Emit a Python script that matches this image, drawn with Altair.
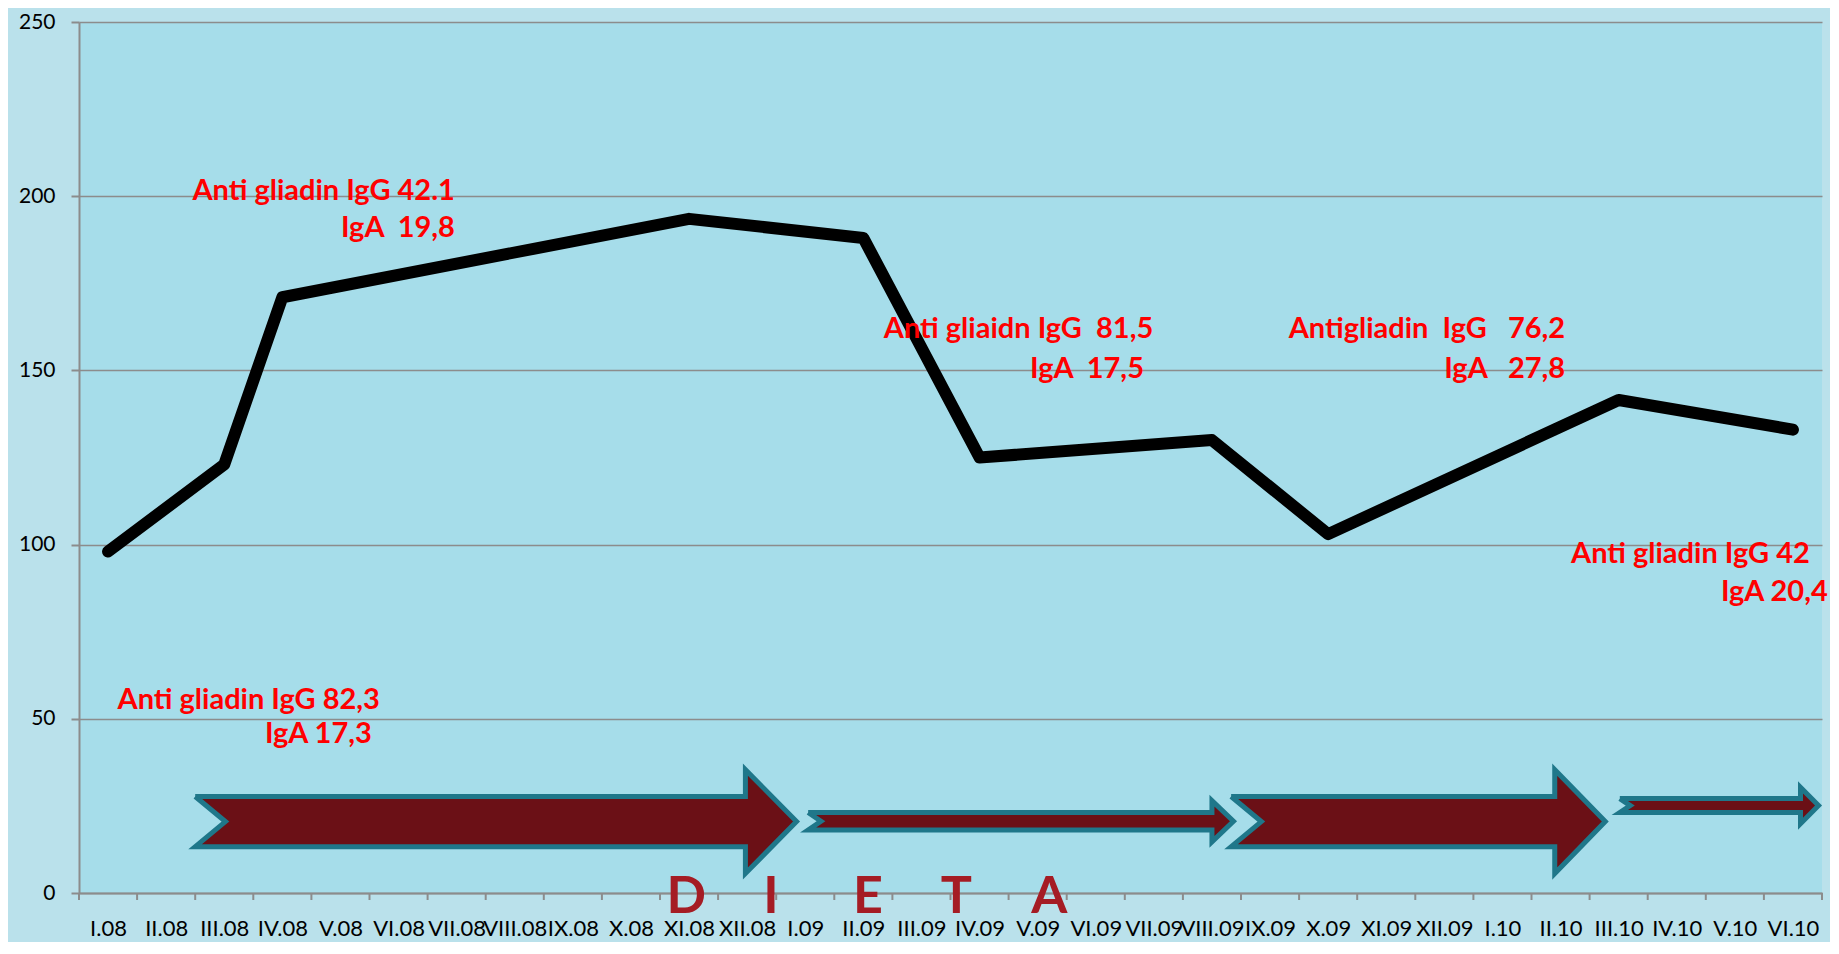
import altair as alt
import pandas as pd

# ---------------- data ----------------
MONTHS = ["I.08", "II.08", "III.08", "IV.08", "V.08", "VI.08", "VII.08", "VIII.08",
          "IX.08", "X.08", "XI.08", "XII.08", "I.09", "II.09", "III.09", "IV.09",
          "V.09", "VI.09", "VII.09", "VIII.09", "IX.09", "X.09", "XI.09", "XII.09",
          "I.10", "II.10", "III.10", "IV.10", "V.10", "VI.10"]

LINE_MONTHS = ["I.08", "III.08", "IV.08", "XI.08", "II.09", "IV.09", "VIII.09",
               "X.09", "III.10", "VI.10"]
LINE_VALUES = [98, 123, 171, 193.5, 188, 125, 130, 103, 141.5, 133]

Y_TICKS = [0, 50, 100, 150, 200, 250]

NB = "\u00a0"
NOTE_TEXTS = ["Anti gliadin IgG 42.1", "IgA" + NB + " 19,8",
              "Anti gliaidn IgG" + NB + " 81,5", "IgA" + NB + " 17,5",
              "Antigliadin" + NB + " IgG" + NB + NB + " 76,2", "IgA" + NB + NB + " 27,8",
              "Anti gliadin IgG 42", "IgA 20,4",
              "Anti gliadin IgG 82,3", "IgA 17,3"]
NOTE_X = [5.97, 5.97, 17.99, 17.83, 25.08, 25.08, 29.29, 29.6, 4.68, 4.54]
NOTE_Y = [198.9, 188.2, 159.3, 147.9, 159.3, 147.9, 94.6, 83.7, 52.8, 43.0]

DIETA_LETTERS = ["D", "I", "E", "T", "A"]
DIETA_X = [9.95, 11.41, 13.08, 14.6, 16.2]
DIETA_Y = [-5.8, -5.8, -5.8, -5.8, -5.8]

ARROW_TAIL = [1.5, 12.05, 19.33, 26.02]
ARROW_NOTCH = [2.02, 12.27, 19.85, 26.2]
ARROW_HEAD = [10.97, 19.0, 24.9, 29.13]
ARROW_TIP = [11.85, 19.37, 25.77, 29.44]
ARROW_MID = [20.5, 20.6, 20.5, 25.1]
ARROW_BODY = [7.2, 2.5, 7.2, 2.0]
ARROW_HEADW = [14.9, 5.9, 14.9, 5.2]

# ---------------- tables ----------------
line_df = pd.DataFrame({"idx": [MONTHS.index(m) for m in LINE_MONTHS], "v": LINE_VALUES})
note_df = pd.DataFrame({"x": NOTE_X, "y": NOTE_Y, "t": NOTE_TEXTS})
dieta_df = pd.DataFrame({"x": DIETA_X, "y": DIETA_Y, "t": DIETA_LETTERS})
tick_df = pd.DataFrame({"b": [i - 0.5 for i in range(len(MONTHS) + 1)]})

rows = []
for i in range(len(ARROW_TAIL)):
    t, n, h, p = ARROW_TAIL[i], ARROW_NOTCH[i], ARROW_HEAD[i], ARROW_TIP[i]
    c, bw, hw = ARROW_MID[i], ARROW_BODY[i], ARROW_HEADW[i]
    pts = [(t, c + bw), (h, c + bw), (h, c + hw), (p, c), (h, c - hw),
           (h, c - bw), (t, c - bw), (n, c), (t, c + bw)]
    for k, (x, y) in enumerate(pts):
        rows.append({"id": i, "k": k, "x": x, "y": y})
arrow_df = pd.DataFrame(rows)

# ---------------- encodings ----------------
W, H = 1743, 871
GREY = "#8C8C8C"
label_expr = "[" + ",".join("'" + m + "'" for m in MONTHS) + "][datum.value]"

X_SCALE = alt.Scale(domain=[-0.5, len(MONTHS) - 0.5], nice=False, zero=False)
X_AXIS = alt.Axis(values=list(range(len(MONTHS))), labelExpr=label_expr, ticks=False,
                  grid=False, labelAngle=0, labelOverlap=False, labelFlush=False,
                  labelFont="Lato", labelFontSize=22, labelColor="#000000",
                  labelPadding=25, domainColor=GREY, domainWidth=2, title=None)
Y_SCALE = alt.Scale(domain=[0, 250], nice=False, zero=True)
Y_AXIS = alt.Axis(values=Y_TICKS, grid=True, gridColor=GREY, gridWidth=1.5,
                  labelFont="Lato", labelFontSize=21, labelColor="#000000",
                  labelPadding=16, tickSize=8, tickColor=GREY, tickWidth=2,
                  domainColor=GREY, domainWidth=2, title=None)


def xenc(f):
    return alt.X(f, type="quantitative", scale=X_SCALE, axis=X_AXIS, title=None)


def yenc(f):
    return alt.Y(f, type="quantitative", scale=Y_SCALE, axis=Y_AXIS, title=None)


ticks = alt.Chart(tick_df).mark_rule(color=GREY, strokeWidth=2).encode(
    x=xenc("b"), y=alt.value(H), y2=alt.value(H + 7))

arrows = alt.Chart(arrow_df).mark_line(
    fill="#6B1016", stroke="#1F778A", strokeWidth=5, strokeJoin="miter",
    strokeMiterLimit=20).encode(
    x=xenc("x"), y=yenc("y"), detail="id:N", order="k:Q")

line = alt.Chart(line_df).mark_line(
    color="#000000", strokeWidth=12, strokeCap="round", strokeJoin="round").encode(
    x=xenc("idx"), y=yenc("v"))

notes = alt.Chart(note_df).mark_text(
    align="right", baseline="alphabetic", font="Lato", fontSize=29,
    fontWeight="bold", color="#FF0000").encode(
    x=xenc("x"), y=yenc("y"), text="t:N")

dieta = alt.Chart(dieta_df).mark_text(
    align="center", baseline="alphabetic", font="Lato", fontSize=52,
    fontWeight="bold", color="#A51C24").encode(
    x=xenc("x"), y=yenc("y"), text="t:N")

chart = alt.layer(ticks, arrows, line, notes, dieta).properties(
    width=W, height=H,
    autosize=alt.AutoSizeParams(type="none"),
    padding={"left": 71, "top": 14, "right": 8, "bottom": 49},
    background="#BAE1EB",
).configure_view(fill="#A6DDEA", strokeWidth=0)

chart.save("out.html", embed_options={"renderer": "svg", "actions": False})
